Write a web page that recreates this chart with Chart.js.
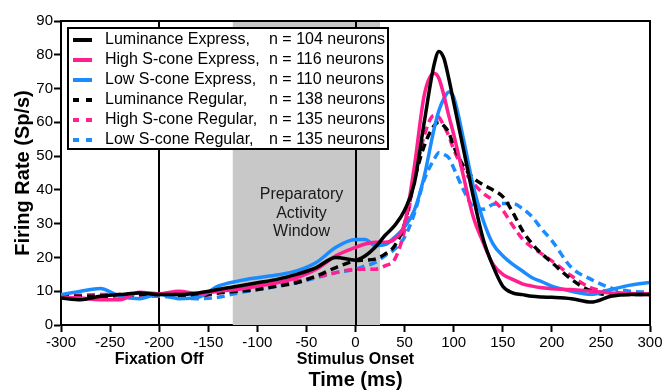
<!DOCTYPE html>
<html>
<head>
<meta charset="utf-8">
<script src="https://cdn.jsdelivr.net/npm/chart.js@4.4.1/dist/chart.umd.min.js"></script>
<style>
  html, body { margin: 0; padding: 0; background: #fff; }
  #wrap { width: 666px; height: 390px; }
</style>
</head>
<body>
<div id="wrap"><canvas id="chart" width="666" height="390"></canvas></div>
<script>
// time axis (ms), shared by every curve
const times = [-300, -280, -260, -240, -220, -200, -180, -160, -140, -120, -100, -80, -60, -40, -20, 0,
  10, 20, 30, 40, 50, 60, 70, 80, 85, 90, 95, 100, 110, 120, 130, 140, 150, 160, 170, 180, 190, 200,
  220, 240, 260, 280, 300];

// firing rates (Sp/s)
const lumExpress = [8, 7.5, 8.5, 9, 9.5, 9, 9, 9.5, 10.5, 11.5, 12.5, 13.5, 15, 17, 20, 19.2,
  20.5, 23, 26.5, 29.5, 34, 42, 60, 77, 81, 79, 73, 66, 52, 38, 25.5, 17.5, 11.5, 9.5, 9, 8.5, 8.3, 8.2,
  7.8, 6.8, 8.5, 9, 9];
const hiExpress = [8.2, 8, 7.5, 7.5, 9.7, 9.2, 10, 9.3, 10, 10.5, 11.5, 12.5, 14, 16.5, 20.5, 23,
  24, 24.5, 24.5, 25.5, 30, 47, 68, 74.5, 73, 68, 62, 56.5, 44, 32, 24.5, 18, 15, 13.5, 12.2, 11.5, 11, 10.7,
  10.5, 10, 9.5, 9.2, 9];
const loExpress = [9, 10, 10.8, 8.5, 7.8, 9.1, 7.8, 8.2, 11.5, 13, 14, 14.8, 16, 18.5, 23, 25.3,
  25.3, 23.5, 23.8, 26, 29, 34, 44, 58, 63.5, 67, 69, 67.5, 55, 41, 31, 24, 20.5, 18, 16, 14, 12.8, 11.5,
  10, 9.1, 10.5, 11.8, 12.6];
const lumRegular = [8.5, 8.5, 8.5, 8.8, 9, 9, 8.8, 8.7, 9.5, 10, 10.5, 11.5, 12.5, 14.5, 17, 19,
  19.2, 19.5, 21, 23.5, 30, 43, 53, 59, 60, 59, 57, 53, 47, 43.5, 41.5, 40, 38, 33.5, 28, 24, 21, 18.5,
  13.5, 10, 9, 9, 9];
const hiRegular = [8.5, 8.8, 9, 9, 8.5, 9, 8.5, 8.5, 9.5, 10.2, 11, 12, 13, 14.2, 15.5, 16.5,
  16.5, 16.5, 17.5, 19.5, 28, 43, 56, 62, 61.5, 59, 56, 52, 46, 42, 39, 37, 34, 29.5, 25.5, 23, 21, 19,
  14.5, 11, 9.8, 9.3, 9.2];
const loRegular = [8.5, 8.5, 8.5, 8.7, 8.5, 8.5, 8, 7.8, 8.2, 9.5, 10.5, 11.5, 12.5, 14, 15.5, 16.5,
  17.5, 18.5, 20.5, 22.5, 26, 33, 43, 49, 51, 50.5, 49.5, 46.5, 40, 35, 34.3, 35.7, 36, 36, 34.5, 32, 28.3, 25,
  17, 13.5, 11, 10, 9.7];

const seriesNames = ['Luminance Express,', 'High S-cone Express,', 'Low S-cone Express,',
  'Luminance Regular,', 'High S-cone Regular,', 'Low S-cone Regular,'];
const neuronCounts = [104, 116, 110, 138, 135, 135];

const windowRange = [-125, 25];
const windowText = ['Preparatory', 'Activity', 'Window'];
const eventTimes = [-200, 0];
const eventNames = ['Fixation Off', 'Stimulus Onset'];

const FONT = "'Liberation Sans', Arial, Helvetica, sans-serif";
const BLACK = '#000000';
const PINK = '#ff1f8f';
const BLUE = '#1a8cff';

Chart.defaults.font.family = FONT;
Chart.defaults.color = '#000';

const toPoints = vals => times.map((t, i) => ({ x: t, y: vals[i] }));

const makeSet = (i, vals, color, dashed) => ({
  label: seriesNames[i],
  data: toPoints(vals),
  borderColor: color,
  backgroundColor: color,
  borderWidth: 3.5,
  borderDash: dashed ? [8, 5] : [],
  borderCapStyle: 'butt',
  pointRadius: 0,
  cubicInterpolationMode: 'monotone',
  fill: false
});

const decorations = {
  id: 'decorations',
  beforeDatasetsDraw(chart) {
    const { ctx, chartArea: a, scales: { x } } = chart;
    ctx.save();
    // shaded preparatory window
    const x0 = x.getPixelForValue(windowRange[0]);
    const x1 = x.getPixelForValue(windowRange[1]);
    ctx.fillStyle = '#c8c8c8';
    ctx.fillRect(x0, a.top, x1 - x0, a.bottom - a.top);
    ctx.fillStyle = '#1a1a1a';
    ctx.font = '16px ' + FONT;
    ctx.textAlign = 'center';
    ctx.textBaseline = 'middle';
    const tx = x.getPixelForValue(-55);
    windowText.forEach((s, i) => ctx.fillText(s, tx, a.top + 174 + i * 18.5));
    // event markers
    ctx.strokeStyle = BLACK;
    ctx.lineWidth = 2;
    eventTimes.forEach(t => {
      const px = Math.round(x.getPixelForValue(t));
      ctx.beginPath();
      ctx.moveTo(px, a.top);
      ctx.lineTo(px, a.bottom);
      ctx.stroke();
    });
    ctx.restore();
  },
  afterDatasetsDraw(chart) {
    const { ctx, chartArea: a, scales: { x } } = chart;
    ctx.save();
    // frame top + right
    ctx.strokeStyle = BLACK;
    ctx.lineWidth = 2;
    ctx.beginPath();
    ctx.moveTo(a.left, a.top);
    ctx.lineTo(a.right, a.top);
    ctx.lineTo(a.right, a.bottom);
    ctx.stroke();

    // legend box
    const bx = 68, by = 28, bw = 320, bh = 121;
    ctx.fillStyle = '#fff';
    ctx.fillRect(bx, by, bw, bh);
    ctx.strokeRect(bx, by, bw, bh);
    ctx.font = '16px ' + FONT;
    ctx.textAlign = 'left';
    ctx.textBaseline = 'middle';
    chart.data.datasets.forEach((ds, i) => {
      const ry = by + 12 + i * 20;
      ctx.strokeStyle = ds.borderColor;
      ctx.lineWidth = 4;
      ctx.setLineDash(ds.borderDash.length ? [6, 7] : []);
      ctx.beginPath();
      ctx.moveTo(bx + 5, ry);
      ctx.lineTo(bx + 24, ry);
      ctx.stroke();
      ctx.setLineDash([]);
      ctx.fillStyle = '#000';
      ctx.fillText(ds.label, bx + 37, ry);
      ctx.fillText('n = ' + neuronCounts[i] + ' neurons', bx + 201, ry);
    });

    // event names under the axis
    ctx.font = 'bold 16px ' + FONT;
    ctx.textAlign = 'center';
    eventTimes.forEach((t, i) => ctx.fillText(eventNames[i], x.getPixelForValue(t), 360));
    ctx.restore();
  }
};

new Chart(document.getElementById('chart'), {
  type: 'line',
  data: {
    datasets: [
      makeSet(0, lumExpress, BLACK, false),
      makeSet(1, hiExpress, PINK, false),
      makeSet(2, loExpress, BLUE, false),
      makeSet(3, lumRegular, BLACK, true),
      makeSet(4, hiRegular, PINK, true),
      makeSet(5, loRegular, BLUE, true)
    ]
  },
  options: {
    responsive: false,
    animation: false,
    layout: { padding: { left: 0, top: 21, right: 16, bottom: 0 } },
    plugins: { legend: { display: false }, tooltip: { enabled: false } },
    scales: {
      x: {
        type: 'linear',
        min: -300,
        max: 300,
        afterFit: s => { s.height = 65; },
        ticks: { stepSize: 50, padding: 2, maxRotation: 0, font: { size: 15 }, color: '#000' },
        grid: { drawOnChartArea: false, drawTicks: true, tickLength: 7, tickWidth: 2, tickColor: BLACK },
        border: { display: true, color: BLACK, width: 2 },
        title: { display: true, text: 'Time (ms)', font: { size: 20, weight: 'bold', lineHeight: 1 }, padding: { top: 0, bottom: 0 }, color: '#000' }
      },
      y: {
        min: 0,
        max: 90,
        afterFit: s => { s.width = 61; },
        ticks: { stepSize: 10, padding: 1, font: { size: 15 }, color: '#000' },
        grid: { drawOnChartArea: false, drawTicks: true, tickLength: 7, tickWidth: 2, tickColor: BLACK },
        border: { display: true, color: BLACK, width: 2 },
        title: { display: true, text: 'Firing Rate (Sp/s)', font: { size: 20, weight: 'bold', lineHeight: 1 }, padding: { top: 13, bottom: 0 }, color: '#000' }
      }
    }
  },
  plugins: [decorations]
});
</script>
</body>
</html>
